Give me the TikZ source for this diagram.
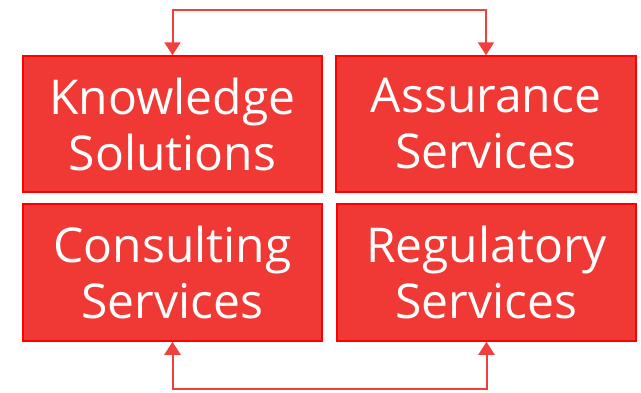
\documentclass[tikz,border=0pt]{standalone}
\usepackage{fontspec}
\setmainfont{Open Sans}
\usetikzlibrary{arrows.meta}
\definecolor{boxfill}{RGB}{240,56,52}
\definecolor{boxline}{RGB}{255,0,0}
\definecolor{linkcol}{RGB}{240,64,60}
\tikzset{
  unit/.style={draw=boxline, line width=1.5pt, fill=boxfill, text=white, align=center,
    inner sep=0pt, font=\fontsize{48}{56}\selectfont},
  link/.style={draw=linkcol, line width=2pt, {Triangle[width=16pt,length=13pt]}-{Triangle[width=16pt,length=13pt]}}
}
\begin{document}
\begin{tikzpicture}[x=1pt,y=-1pt]
\useasboundingbox (0,0) rectangle (641,392);
\node[unit, minimum width=299pt, minimum height=136pt] (kn) at (172.5,124) {Knowledge\\Solutions};
\node[unit, minimum width=300pt, minimum height=136pt] (as) at (486,124) {Assurance\\Services};
\node[unit, minimum width=299pt, minimum height=137pt] (co) at (172.5,272.5) {Consulting\\Services};
\node[unit, minimum width=299pt, minimum height=137pt] (re) at (486.5,272.5) {Regulatory\\Services};
\coordinate (topline) at (0,10);
\coordinate (botline) at (0,389);
\draw[link] (kn.north) -- (kn.north |- topline) -| (as.north);
\draw[link] (co.south) -- (co.south |- botline) -| (re.south);
\end{tikzpicture}
\end{document}
